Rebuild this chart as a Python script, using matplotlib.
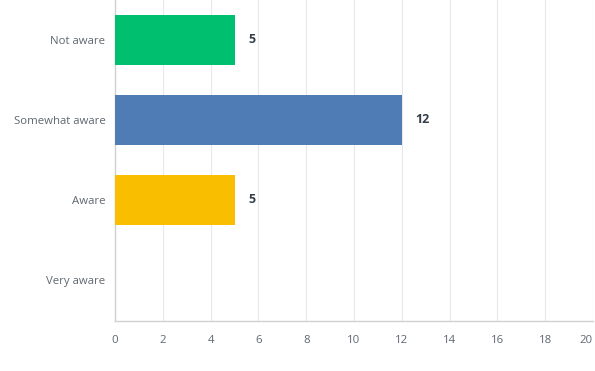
import matplotlib
matplotlib.use("Agg")
import matplotlib.pyplot as plt

categories = ["Not aware", "Somewhat aware", "Aware", "Very aware"]
values = [5, 12, 5, 0]
colors = ["#00BF6F", "#507CB6", "#F9BE00", "#A05DB5"]
xticks = [0, 2, 4, 6, 8, 10, 12, 14, 16, 18, 20]

plt.rcParams['font.family'] = ['Open Sans', 'DejaVu Sans']

fig = plt.figure(figsize=(5.95, 3.71), dpi=100)
ax = fig.add_axes([0.1933, 0.1348, 0.8033, 0.8652])

y = list(range(len(categories)))
bars = ax.barh(y, values, height=0.625, color=colors, zorder=3)
for yi, v in zip(y, values):
    if v > 0:
        ax.annotate(str(v), (v, yi), xytext=(10, 0), textcoords="offset points",
                    va="center", ha="left", fontsize=9, fontweight="bold", color="#333E48")

ax.set_ylim(3.5125, -0.5)
ax.set_xlim(0, 20)
ax.set_xticks(xticks)
ax.set_xticklabels([str(t) for t in xticks], fontsize=8.2, color="#5F6770")
ax.set_yticks(y)
ax.set_yticklabels(categories, fontsize=8.2, color="#5F6770")
ax.tick_params(axis="both", length=0)
ax.tick_params(axis="x", pad=10)
ax.tick_params(axis="y", pad=7)
xl = ax.get_xticklabels()
xl[-1].set_ha("right")
ax.grid(axis="x", color="#E8E8E8", linewidth=0.8, zorder=0)
for s in ["top", "right"]:
    ax.spines[s].set_visible(False)
for s in ["left", "bottom"]:
    ax.spines[s].set_color("#D0D0D0")
    ax.spines[s].set_linewidth(1)

fig.savefig("out.png", dpi=100)
